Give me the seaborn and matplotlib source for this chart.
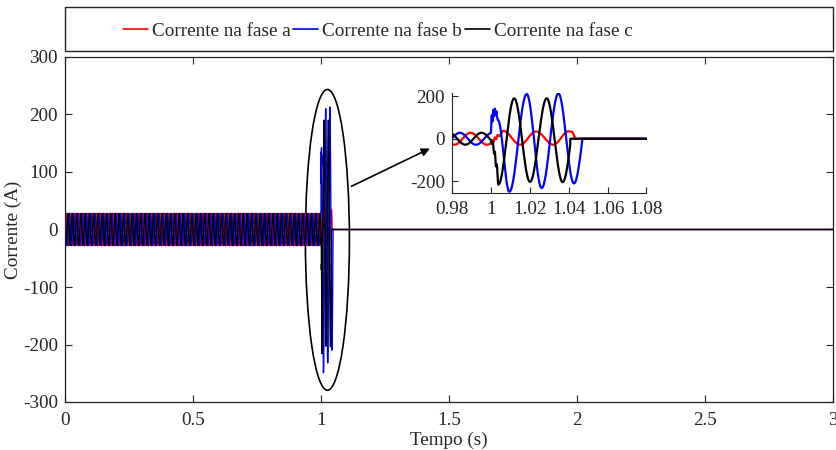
import numpy as np
import pandas as pd
import seaborn as sns
import matplotlib
matplotlib.use("Agg")
import matplotlib.pyplot as plt
from matplotlib.patches import Ellipse, Rectangle
from matplotlib.lines import Line2D

# ---- data -------------------------------------------------------------
series_names = ["Corrente na fase a", "Corrente na fase b", "Corrente na fase c"]
series_colors = ["#ff0000", "#0000ff", "#000000"]

freq_hz = 60.0
fault_time = 1.0
steady_amplitude = [28.0, 28.0, 28.0]          # A, before the fault
steady_peak_time = [0.9896, 0.9840, 0.9785]    # s, one crest of each phase

# fault transient: successive extremes (time s, current A) for each phase
knots_a_t = [1.0008, 1.0014, 1.0020, 1.0027, 1.0034, 1.0042, 1.0064, 1.0150, 1.0232, 1.0321, 1.0400, 1.0415, 1.0438]
knots_a_v = [-6, -14, 6, -2, 18, 12, 37, -28, 34, -28, 35, 33, 0]
knots_b_t = [1.0004, 1.0008, 1.0012, 1.0016, 1.0020, 1.0024, 1.0028, 1.0032, 1.0036, 1.0095, 1.0184, 1.0261, 1.0347, 1.0427, 1.0513]
knots_b_v = [110, 80, 135, 105, 142, 112, 130, 100, 88, -249, 210, -232, 213, -210, 200]
knots_c_t = [1.0006, 1.0010, 1.0016, 1.0020, 1.0026, 1.0030, 1.0038, 1.0120, 1.0201, 1.0287, 1.0369, 1.0453]
knots_c_v = [-25, -15, -70, -60, -130, -120, -216, 190, -203, 190, -204, 190]
trip_time = [None, 1.0471, 1.0408]             # breaker opening per phase

t_end = 3.0
sample_step = 2e-5


def phase_current(t, amp, t_peak, kt, kv, t_trip):
    y = amp * np.cos(2 * np.pi * freq_hz * (t - t_peak))
    kt = np.concatenate([[fault_time], kt])
    kv = np.concatenate([[amp * np.cos(2 * np.pi * freq_hz * (fault_time - t_peak))], kv])
    y[t >= fault_time] = 0.0
    for i in range(len(kt) - 1):
        m = (t >= kt[i]) & (t < kt[i + 1])
        s = (t[m] - kt[i]) / (kt[i + 1] - kt[i])
        y[m] = kv[i] + (kv[i + 1] - kv[i]) * (1 - np.cos(np.pi * s)) / 2
    if t_trip is not None:
        y[t >= t_trip] = 0.0
    return y


t = np.concatenate([np.arange(0.0, 1.1, sample_step), [t_end]])
currents = [
    phase_current(t, steady_amplitude[0], steady_peak_time[0], knots_a_t, knots_a_v, trip_time[0]),
    phase_current(t, steady_amplitude[1], steady_peak_time[1], knots_b_t, knots_b_v, trip_time[1]),
    phase_current(t, steady_amplitude[2], steady_peak_time[2], knots_c_t, knots_c_v, trip_time[2]),
]

# ---- style ------------------------------------------------------------
sns.set_style("ticks")
plt.rcParams["font.family"] = ["Liberation Serif", "DejaVu Serif"]
plt.rcParams["axes.unicode_minus"] = False
plt.rcParams["xtick.direction"] = "in"
plt.rcParams["ytick.direction"] = "in"
FS = 13.8

fig = plt.figure(figsize=(8.36, 4.5), dpi=100)
ax = fig.add_axes([65 / 836, 48 / 450, 768 / 836, 345 / 450])

for y, c in zip(currents, series_colors):
    sns.lineplot(x=t, y=y, ax=ax, color=c, lw=1.0, estimator=None, sort=False, legend=False)

ax.set_xlim(0, 3)
ax.set_ylim(-300, 300)
ax.set_xticks([0, 0.5, 1, 1.5, 2, 2.5, 3])
ax.set_xticklabels(["0", "0.5", "1", "1.5", "2", "2.5", "3"])
ax.set_yticks([-300, -200, -100, 0, 100, 200, 300])
ax.tick_params(axis="both", which="both", direction="in", top=True, right=True,
               length=5, width=0.8, labelsize=FS)
ax.tick_params(axis="x", pad=7)
ax.tick_params(axis="y", pad=5)
for sp in ax.spines.values():
    sp.set_linewidth(0.9)
    sp.set_color("#222222")
ax.set_xlabel("Tempo (s)", fontsize=FS, labelpad=2)
ax.set_ylabel("Corrente (A)", fontsize=FS, labelpad=1)

# highlight of the fault transient
ax.add_patch(Ellipse((1.025, -18), 0.172, 523, fill=False, ec="black", lw=1.2))
ax.annotate("", xy=(1.435, 143), xytext=(1.109, 73),
            arrowprops=dict(arrowstyle="-|>", color="black", lw=1.2, mutation_scale=12))

# zoomed view
axin = fig.add_axes([452 / 836, 257 / 450, 194.5 / 836, 100 / 450])
win = (t >= 0.975) & (t <= 1.085)
for y, c in zip(currents, series_colors):
    sns.lineplot(x=t[win], y=y[win], ax=axin, color=c, lw=1.6, estimator=None, sort=False, legend=False)
axin.set_xlim(0.98, 1.08)
axin.set_ylim(-255, 215)
axin.set_xticks([0.98, 1.0, 1.02, 1.04, 1.06, 1.08])
axin.set_xticklabels(["0.98", "1", "1.02", "1.04", "1.06", "1.08"])
axin.set_yticks([-200, 0, 200])
axin.tick_params(axis="both", direction="in", length=4, width=0.8, labelsize=FS)
axin.tick_params(axis="x", pad=6)
axin.tick_params(axis="y", pad=5)
axin.spines["top"].set_visible(False)
axin.spines["right"].set_visible(False)
axin.set_facecolor("white")

# legend bar above the axes
fig.add_artist(Rectangle((65 / 836, 1 - 51 / 450), 768 / 836, 44 / 450,
                         transform=fig.transFigure, fill=False, ec="#222222", lw=1.0))
handles = [Line2D([], [], color=c, lw=1.2) for c in series_colors]
fig.legend(handles, series_names, loc="center left", bbox_to_anchor=(123 / 836, 1 - 31 / 450),
           ncol=3, frameon=False, fontsize=FS, handlelength=1.3, handletextpad=0.2,
           columnspacing=0.15, borderpad=0, borderaxespad=0)

fig.savefig("out.png", dpi=100)
